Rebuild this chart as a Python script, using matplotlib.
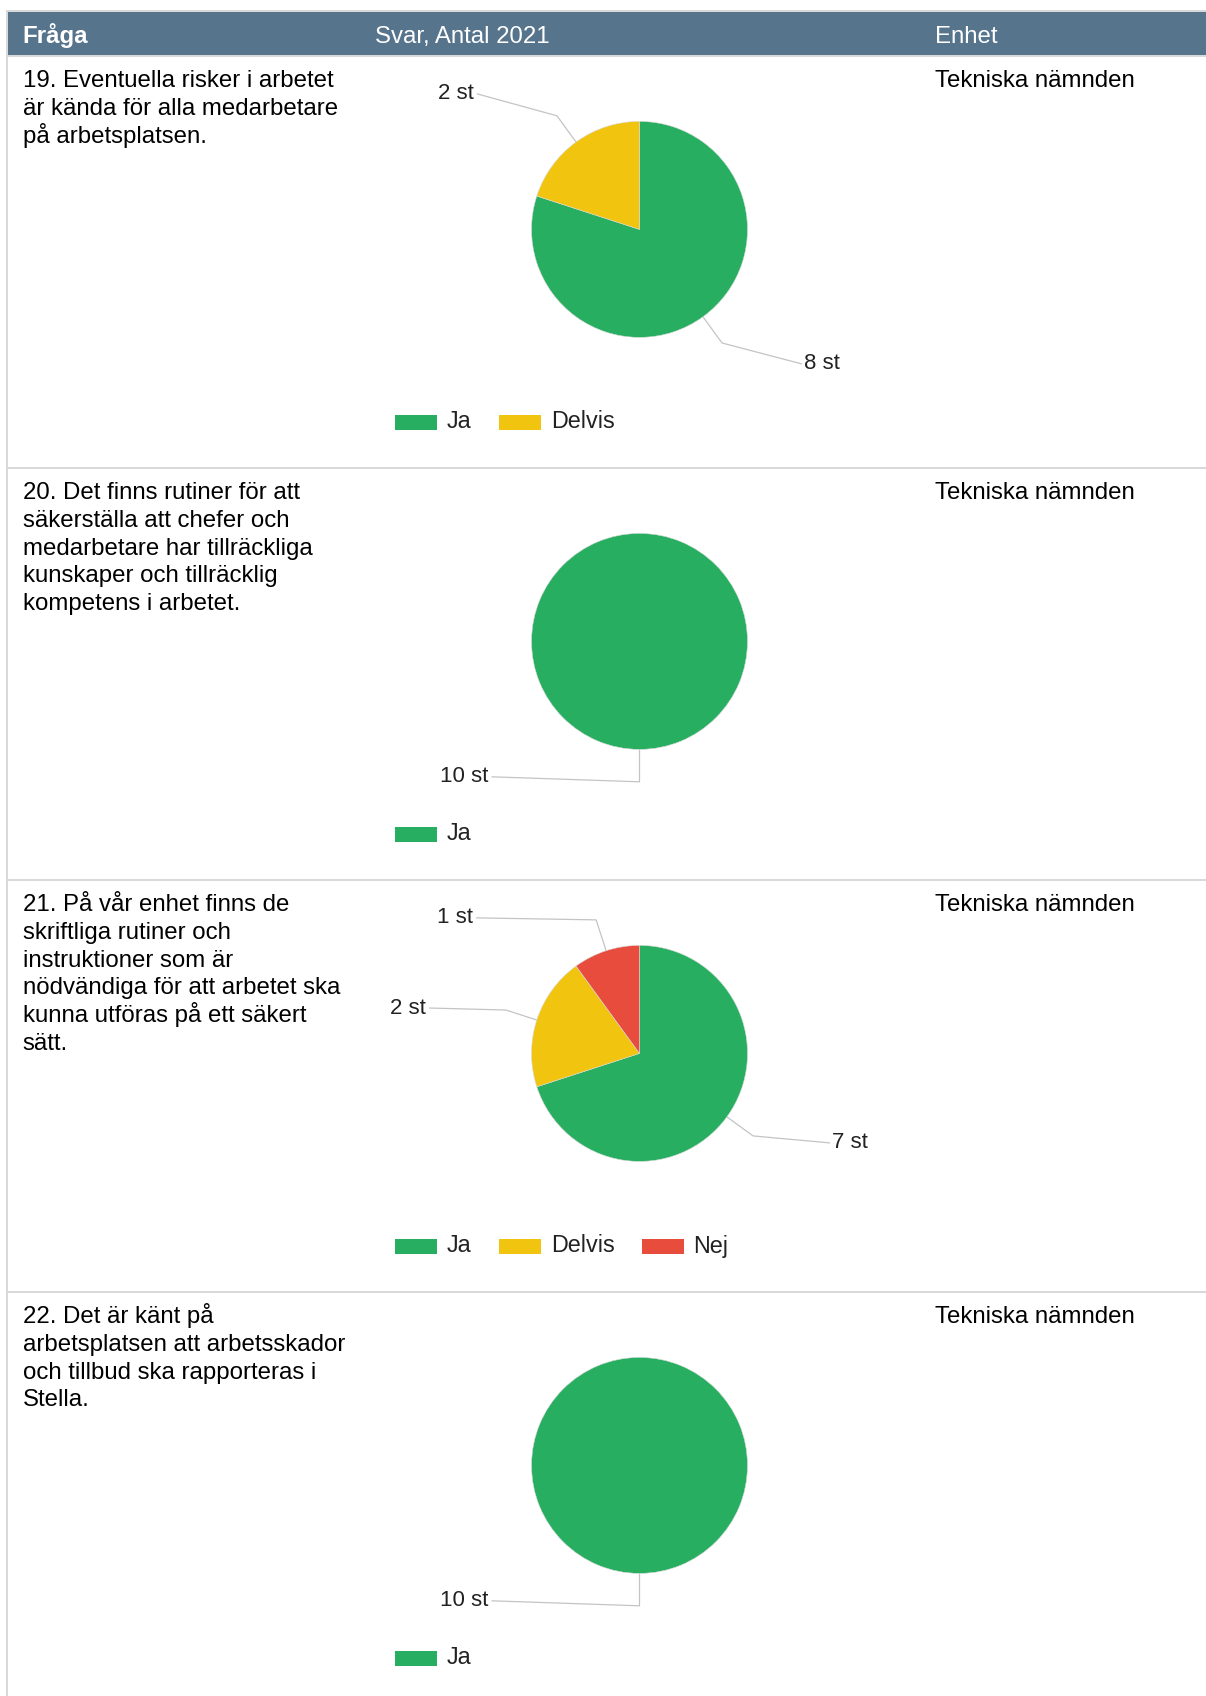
import numpy as np
import matplotlib
matplotlib.use("Agg")
import matplotlib.pyplot as plt
from matplotlib.patches import Rectangle

# =============================================================================
# 1. DATOS
# =============================================================================

preguntas = [
    ["19. Eventuella risker i arbetet",
     "är kända för alla medarbetare",
     "på arbetsplatsen."],
    ["20. Det finns rutiner för att",
     "säkerställa att chefer och",
     "medarbetare har tillräckliga",
     "kunskaper och tillräcklig",
     "kompetens i arbetet."],
    ["21. På vår enhet finns de",
     "skriftliga rutiner och",
     "instruktioner som är",
     "nödvändiga för att arbetet ska",
     "kunna utföras på ett säkert",
     "sätt."],
    ["22. Det är känt på",
     "arbetsplatsen att arbetsskador",
     "och tillbud ska rapporteras i",
     "Stella."],
]
enhet = "Tekniska nämnden"
cabecera = ["Fråga", "Svar, Antal 2021", "Enhet"]

svar_kat = ["Ja", "Delvis", "Nej"]
svar_q19 = [8, 2]
svar_q20 = [10]
svar_q21 = [7, 2, 1]
svar_q22 = [10]
respuestas = [svar_q19, svar_q20, svar_q21, svar_q22]

# =============================================================================
# 2. ESTILO Y LAYOUT (px)
# =============================================================================

W, H, DPI = 1206, 1696, 100
FONT = ["Liberation Sans", "DejaVu Sans"]
C_HEAD, C_GRID, C_LINE = "#57748D", "#D9D9D9", "#C4C4C4"
COLORES = ["#27AE60", "#F1C40F", "#E74C3C"]

HEAD_Y0, HEAD_Y1 = 12, 55
ROW_H = 412
COL_X = [22.7, 375, 935]
TXT_FS, LBL_FS, LEG_FS = 17.3, 16.0, 16.8
LINE_DY = 27.7
PIE_CX, PIE_DY, PIE_R = 639.5, 174.4, 108
LEG_X0, LEG_DY = 395, 367

# desplazamiento de la etiqueta respecto al codo de la línea guía
LBL_OFF = [
    [(80, 21), (-80, -22)],
    [(-148, -5)],
    [(77, 7), (-77, -2), (-120, -2)],
    [(-148, -5)],
]

# =============================================================================
# 3. FIGURA
# =============================================================================

fig = plt.figure(figsize=(W / DPI, H / DPI), dpi=DPI, facecolor="white")
ax = fig.add_axes([0, 0, 1, 1])
ax.axis("off")

# bordes y cabecera
ax.add_patch(Rectangle((6, 10), W, 2, color=C_GRID, lw=0))
ax.add_patch(Rectangle((6, 10), 2, H, color=C_GRID, lw=0))
ax.add_patch(Rectangle((8, HEAD_Y0), W, HEAD_Y1 - HEAD_Y0, color=C_HEAD, lw=0))
for i, txt in enumerate(cabecera):
    ax.text(COL_X[i], 42.7, txt, color="white", fontsize=TXT_FS, family=FONT,
            fontweight="bold" if i == 0 else "normal", va="baseline")

renderer = fig.canvas.get_renderer()


def _ancho(t):
    return t.get_window_extent(renderer).width


for k, (lineas, vals) in enumerate(zip(preguntas, respuestas)):
    top = HEAD_Y1 + k * ROW_H
    ax.add_patch(Rectangle((8, top), W, 2, color=C_GRID, lw=0))

    for j, ln in enumerate(lineas):
        ax.text(COL_X[0], top + 32.3 + LINE_DY * j, ln, fontsize=TXT_FS, family=FONT,
                color="black", va="baseline")
    ax.text(COL_X[2], top + 32.3, enhet, fontsize=TXT_FS, family=FONT,
            color="black", va="baseline")

    # torta (y invertido: start -90 y counterclock=True => horario en pantalla)
    cy = top + PIE_DY
    cols = COLORES[:len(vals)]
    ax.pie(vals, colors=cols, startangle=-90, counterclock=True,
           center=(PIE_CX, cy), radius=PIE_R,
           wedgeprops=dict(edgecolor="#DADADA", linewidth=0.4))

    # etiquetas con línea guía
    total = float(sum(vals))
    acum = 0.0
    for i, v in enumerate(vals):
        th = np.deg2rad(360 * (acum + v / 2) / total)
        acum += v
        dx, dy = np.sin(th), -np.cos(th)
        p0 = (PIE_CX + PIE_R * dx, cy + PIE_R * dy)
        p1 = (PIE_CX + 1.3 * PIE_R * dx, cy + 1.3 * PIE_R * dy)
        ox, oy = LBL_OFF[k][i]
        p2 = (p1[0] + ox, p1[1] + oy)
        ax.plot([p0[0], p1[0], p2[0]], [p0[1], p1[1], p2[1]],
                color=C_LINE, lw=0.9, solid_capstyle="butt")
        ha = "left" if ox > 0 else "right"
        ax.text(p2[0] + (2 if ox > 0 else -3), p2[1], f"{v} st", ha=ha, va="center",
                fontsize=LBL_FS, family=FONT, color="#222222")

    # leyenda
    ly = top + LEG_DY
    x = LEG_X0
    for i in range(len(vals)):
        ax.add_patch(Rectangle((x, ly - 7.5), 42, 15, color=cols[i], lw=0))
        t = ax.text(x + 52, ly, svar_kat[i], ha="left", va="center",
                    fontsize=LEG_FS, family=FONT, color="#222222")
        x = x + 52 + _ancho(t) + 27

ax.set_xlim(0, W)
ax.set_ylim(H, 0)
ax.set_aspect("auto")

fig.savefig("out.png", dpi=DPI, facecolor="white")
